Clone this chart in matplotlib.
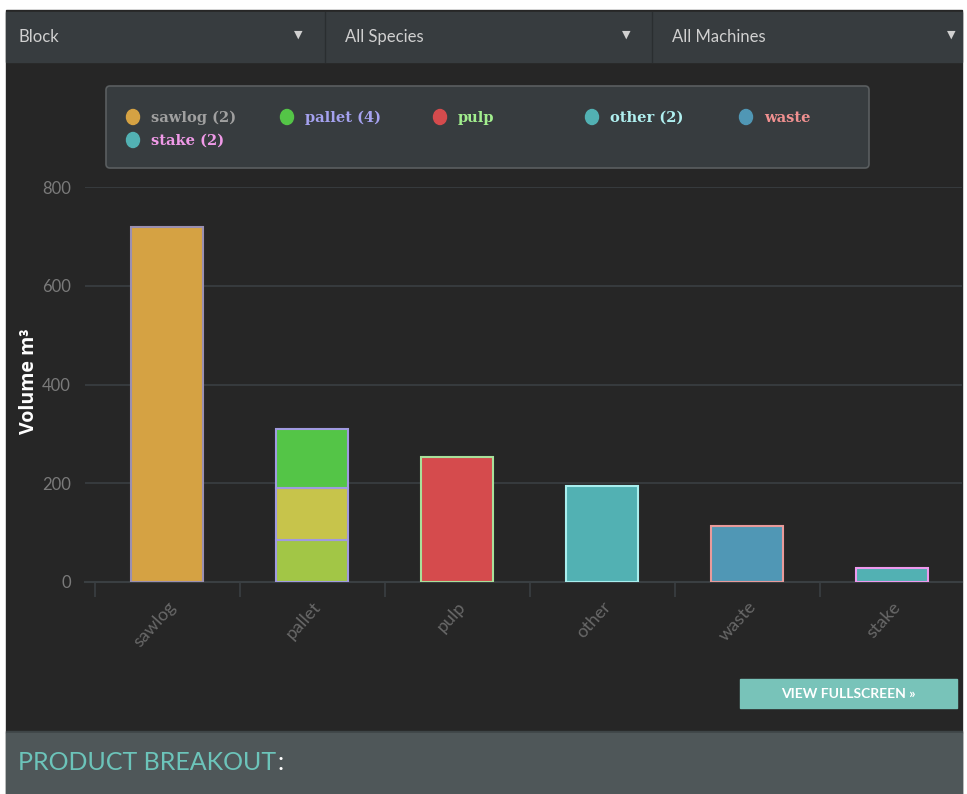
import numpy as np
import matplotlib.pyplot as plt
import matplotlib.transforms as mtransforms
from matplotlib.patches import Rectangle, Ellipse, FancyBboxPatch

# product volumes (m3)
categories = ['sawlog', 'pallet', 'pulp', 'other', 'waste', 'stake']
single_values = {'sawlog': 720, 'pulp': 253, 'other': 194, 'waste': 113, 'stake': 28}
pallet_parts = [85, 105, 120]
y_ticks = [0, 200, 400, 600, 800]

legend_labels = ['sawlog (2)', 'pallet (4)', 'pulp', 'other (2)', 'waste', 'stake (2)']
filters = ['Block', 'All Species', 'All Machines']

fill_colors = {'sawlog': '#D5A243', 'pulp': '#D54B4D', 'other': '#52B1B3',
               'waste': '#5097B5', 'stake': '#52B1B3'}
edge_colors = {'sawlog': '#9A8FB0', 'pulp': '#A8E09A', 'other': '#A8EEEE',
               'waste': '#E89A9A', 'stake': '#EE99EE'}
pallet_colors = ['#A2C646', '#C7C44B', '#54C547']
pallet_edge = '#A09AE0'
legend_dot = ['#D5A243', '#54C547', '#D54B4D', '#52B1B3', '#5097B5', '#52B1B3']
legend_text = ['#A0A0A0', '#A5A2F0', '#A2EE8E', '#B0F0F0', '#F09090', '#F09AE8']

W, H = 967, 794
fig = plt.figure(figsize=(W / 100, H / 100), dpi=100)
fig.patch.set_facecolor('white')

# page chrome drawn in pixel coordinates
bg = fig.add_axes([0, 0, 1, 1], zorder=0)
bg.set_xlim(0, W)
bg.set_ylim(H, 0)
bg.axis('off')
bg.add_patch(Rectangle((6, 10), W - 11, H - 10, color='#262626'))
bg.add_patch(Rectangle((6, 12), W - 11, 50, color='#373C3F'))
for x in (325, 652):
    bg.plot([x, x], [12, 62], color='#2A2E30', lw=1)
for x, label in zip((18, 345, 672), filters):
    bg.text(x, 37, label, color='#D0D0D0', fontsize=12, family='Lato', va='center')
for x in (298, 626, 951):
    bg.text(x, 35, '\u25BC', color='#D0D0D0', fontsize=8, va='center', ha='center')

# legend box
bg.add_patch(FancyBboxPatch((106, 86), 763, 82, boxstyle='round,pad=0,rounding_size=4',
                            facecolor='#373C3F', edgecolor='#5A5E60', lw=1.2))
leg_pos = [(133, 117), (287, 117), (440, 117), (592, 117), (746, 117), (133, 140)]
for (x, y), lab, dc, tc in zip(leg_pos, legend_labels, legend_dot, legend_text):
    bg.add_patch(Ellipse((x, y), 13, 15, color=dc))
    bg.text(x + 18, y + 1, lab, color=tc, fontsize=10.5, family='DejaVu Serif',
            fontweight='bold', va='center')

# button and bottom panel
bg.add_patch(Rectangle((740, 679), 217, 29, color='#78C3B9'))
bg.text(848, 694, 'VIEW FULLSCREEN \u00bb', color='white', fontsize=10, family='Lato',
        fontweight='bold', ha='center', va='center')
bg.add_patch(Rectangle((6, 731), W - 11, 2, color='#3E4547'))
bg.add_patch(Rectangle((6, 733), W - 11, H - 733, color='#4F5759'))
t = bg.text(18, 763, 'PRODUCT BREAKOUT', color='#6CC4BA', fontsize=18, family='Lato',
            va='center')
fig.canvas.draw()
bb = t.get_window_extent()
x_end = bg.transData.inverted().transform((bb.x1, bb.y0))[0]
bg.text(x_end + 1, 763, ':', color='white', fontsize=18, family='Lato', va='center')

# chart axes
ax_left, ax_right, ax_top, ax_bottom = 85, 962, 187, 582
ax = fig.add_axes([ax_left / W, 1 - ax_bottom / H, (ax_right - ax_left) / W,
                   (ax_bottom - ax_top) / H], zorder=1)
ax.set_facecolor('none')
step = 145.0
x0 = -(167 - ax_left) / step
ax.set_xlim(x0, x0 + (ax_right - ax_left) / step)
ax.set_ylim(0, 800)

pos = np.arange(len(categories))
for i, cat in enumerate(categories):
    if cat == 'pallet':
        bottom = 0
        for v, c in zip(pallet_parts, pallet_colors):
            ax.bar(i, v, 0.49, bottom=bottom, color=c, edgecolor=pallet_edge, lw=1.5, zorder=3)
            bottom += v
    else:
        ax.bar(i, single_values[cat], 0.49, color=fill_colors[cat],
               edgecolor=edge_colors[cat], lw=1.5, zorder=3)

ax.set_yticks(y_ticks)
ax.grid(axis='y', color='#3A3F42', lw=1.2, zorder=0)
ax.set_xticks(pos)
ax.set_xticklabels(categories, rotation=48, ha='right', rotation_mode='anchor',
                   color='#686868', fontsize=13, family='Lato')
shift = mtransforms.ScaledTranslation(-10 / 100, 0, fig.dpi_scale_trans)
for lab in ax.get_xticklabels():
    lab.set_transform(lab.get_transform() + shift)
ax.set_xticks(pos - 0.5, minor=True)
ax.tick_params(axis='x', which='major', length=0, pad=12)
ax.tick_params(axis='x', which='minor', length=11, color='#3A3F42', width=1.2)
ax.tick_params(axis='y', length=0, pad=10, labelcolor='#7A7A7A', labelsize=12)
for lab in ax.get_yticklabels():
    lab.set_family('Lato')
for s in ('top', 'right', 'left'):
    ax.spines[s].set_visible(False)
ax.spines['bottom'].set_color('#3A3F42')
ax.spines['bottom'].set_linewidth(1.5)
ax.set_ylabel('Volume m\u00b3', color='white', fontsize=14, fontweight='bold',
              family='Open Sans')
ax.yaxis.set_label_coords((39 - ax_left) / (ax_right - ax_left), (582 - 381) / 395)

fig.savefig('out.png', dpi=100, facecolor=fig.get_facecolor())
